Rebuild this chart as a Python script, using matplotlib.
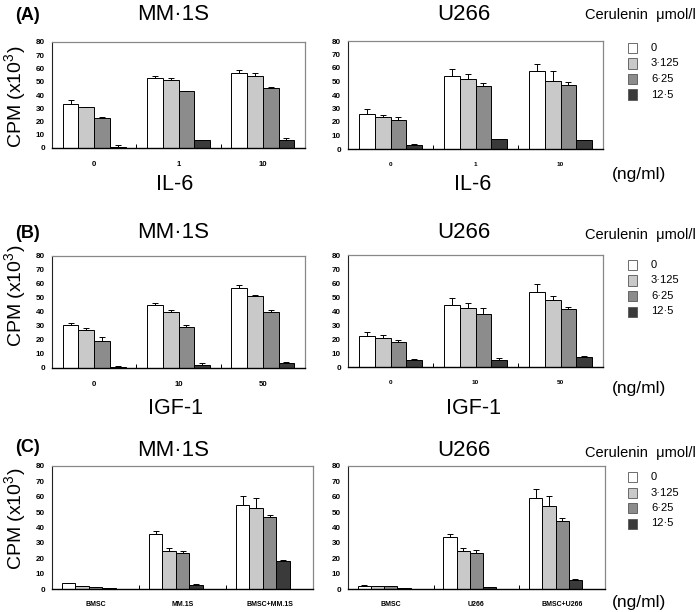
import numpy as np
import matplotlib
matplotlib.use("Agg")
import matplotlib.pyplot as plt
from matplotlib.patches import Rectangle

plt.rcParams["font.family"] = ["Liberation Sans", "DejaVu Sans"]
plt.rcParams["mathtext.fontset"] = "custom"
plt.rcParams["mathtext.rm"] = "Liberation Sans"

W, H = 700, 612

conc_labels = ["0", "3\u00b7125", "6\u00b725", "12\u00b75"]
bar_colors = ["white", "#c9c9c9", "#8c8c8c", "#3a3a3a"]

# panel A: IL-6 (ng/ml)
il6_cats = ["0", "1", "10"]
a_mm1s = [[33, 30.8, 23, 1.0], [53.2, 51.5, 42.7, 5.8], [56.7, 54, 45.2, 5.8]]
a_mm1s_err = [[3.2, 0.4, 0.6, 1.0], [1.5, 1.7, 0.5, 0.4], [2.0, 2.5, 0.5, 1.5]]
a_u266 = [[25.6, 23.4, 21.4, 3.2], [53.9, 51.5, 46.6, 7.1], [58.1, 50.7, 47.3, 6.4]]
a_u266_err = [[3.7, 2.0, 2.2, 0.3], [5.7, 4.4, 2.4, 0.5], [5.2, 7.2, 2.7, 0.4]]

# panel B: IGF-1 (ng/ml)
igf_cats = ["0", "10", "50"]
b_mm1s = [[30.6, 27.3, 19.2, 0.7], [44.9, 39.7, 29.2, 1.9], [57.2, 51.1, 39.7, 3.8]]
b_mm1s_err = [[1.9, 1.2, 2.9, 0.7], [1.4, 1.9, 1.4, 1.7], [1.9, 0.7, 1.4, 0.5]]
b_u266 = [[22.4, 21.0, 18.1, 5.3], [44.6, 41.8, 38.2, 5.3], [53.5, 48.0, 41.5, 7.4]]
b_u266_err = [[2.4, 1.7, 1.5, 0.3], [4.8, 4.0, 3.6, 0.9], [5.9, 2.4, 1.7, 0.3]]

# panel C: co-culture
c_mm1s_cats = ["BMSC", "MM.1S", "BMSC+MM.1S"]
c_u266_cats = ["BMSC", "U266", "BMSC+U266"]
c_mm1s = [[3.9, 1.7, 1.3, 0.6], [35.6, 24.4, 23.3, 2.8], [54.5, 53.0, 46.6, 18.3]]
c_mm1s_err = [[0.3, 0.2, 0.2, 0.1], [2.3, 2.3, 1.7, 0.5], [5.8, 6.5, 1.5, 0.5]]
c_u266 = [[2.2, 1.7, 1.7, 0.4], [34.0, 24.8, 23.1, 1.3], [59.0, 53.7, 44.4, 5.8]]
c_u266_err = [[0.3, 0.3, 0.3, 0.1], [1.6, 1.9, 2.1, 0.3], [5.9, 6.6, 1.5, 0.7]]

fig = plt.figure(figsize=(W / 100, H / 100), dpi=100)


def px_axes(x0, y0, x1, y1):
    return fig.add_axes([x0 / W, 1 - y1 / H, (x1 - x0) / W, (y1 - y0) / H])


def px_text(x, y, s, **kw):
    fig.text(x / W, 1 - y / H, s, **kw)


def draw(ax, cats, vals, errs, w, shift, xfs):
    vals = np.array(vals)
    errs = np.array(errs)
    x = np.arange(len(cats))
    for j in range(4):
        pos = x + (j - 1.5) * w + shift
        ax.bar(pos, vals[:, j], w, color=bar_colors[j], edgecolor="black",
               linewidth=0.7, zorder=2)
        ax.errorbar(pos, vals[:, j], yerr=[np.zeros(len(cats)), errs[:, j]],
                    fmt="none", ecolor="black", elinewidth=0.7, capsize=2,
                    capthick=0.7, zorder=3)
    ax.set_xlim(-0.5, len(cats) - 0.5)
    ax.set_ylim(0, 80)
    ax.set_yticks(np.arange(0, 81, 10))
    ax.set_xticks(x)
    ax.set_xticklabels(cats)
    ax.set_xticks([0.5, 1.5], minor=True)
    ax.tick_params(axis="x", which="major", length=0, labelsize=xfs, pad=9)
    ax.tick_params(axis="x", which="minor", length=3, direction="in", width=0.7)
    ax.tick_params(axis="y", length=0, labelsize=5.8, pad=5)
    for t in ax.get_yticklabels():
        t.set_fontweight("bold")
    for t in ax.get_xticklabels():
        t.set_fontweight("bold")
    for s in ["top", "right"]:
        ax.spines[s].set_color("#888888")
        ax.spines[s].set_linewidth(0.9)
    ax.spines["left"].set_color("#222222")
    ax.spines["left"].set_linewidth(0.8)
    ax.spines["bottom"].set_linewidth(1.0)


def legend_block(ytop, ycer):
    px_text(585, ycer, "Cerulenin  \u03bcmol/l", fontsize=10.5, va="center", ha="left")
    for k, lab in enumerate(conc_labels):
        yc = ytop + k * 15.5
        fig.patches.append(Rectangle((628 / W, 1 - (yc + 5) / H), 9 / W, 10 / H,
                                     transform=fig.transFigure, facecolor=bar_colors[k],
                                     edgecolor="#555555", linewidth=0.6))
        px_text(651, yc, lab, fontsize=8, va="center", ha="left")


panels = [
    ("(A)", 15, (42, 148), (41, 149), il6_cats, il6_cats, a_mm1s, a_mm1s_err, a_u266, a_u266_err,
     0.186, 0.0, "IL-6", 184, 175, 48, 15, 97, (305, 603), (5.6, 4.6)),
    ("(B)", 233, (256, 368), (255, 367), igf_cats, igf_cats, b_mm1s, b_mm1s_err, b_u266, b_u266_err,
     0.186, 0.0, "IGF-1", 408, 388, 265, 235, 296, (305, 603), (5.6, 4.6)),
    ("(C)", 447, (466, 589), (466, 589), c_mm1s_cats, c_u266_cats, c_mm1s, c_mm1s_err, c_u266, c_u266_err,
     0.155, -0.0775, None, None, 602, 477, 453, 519, (313, 605), (5.0, 5.0)),
]

for (tag, ty, ly, ry, catl, catr, vl, el, vr, er, w, shift, xname, xny, ngy,
     legy, cery, cpmy, (lr, rr), (fsl, fsr)) in panels:
    axl = px_axes(52, ly[0], lr, ly[1])
    axr = px_axes(348, ry[0], rr, ry[1])
    draw(axl, catl, vl, el, w, shift, fsl)
    draw(axr, catr, vr, er, w, shift, fsr)
    off = 3 if tag == "(C)" else 0
    px_text(15, ty, tag, fontsize=13, fontweight="bold", va="center", ha="left")
    px_text(173, ty + off, "MM\u00b71S", fontsize=16, va="center", ha="center")
    px_text(464, ty + off, "U266", fontsize=16, va="center", ha="center")
    px_text(16, cpmy, "CPM (x10$^3$)", fontsize=14, rotation=90, va="center", ha="center")
    if xname:
        px_text(175, xny, xname, fontsize=15.5, va="center", ha="center")
        px_text(473, xny, xname, fontsize=15.5, va="center", ha="center")
    px_text(612, ngy, "(ng/ml)", fontsize=12.5, va="center", ha="left")
    legend_block(legy, cery)

fig.savefig("out.png", dpi=100)
